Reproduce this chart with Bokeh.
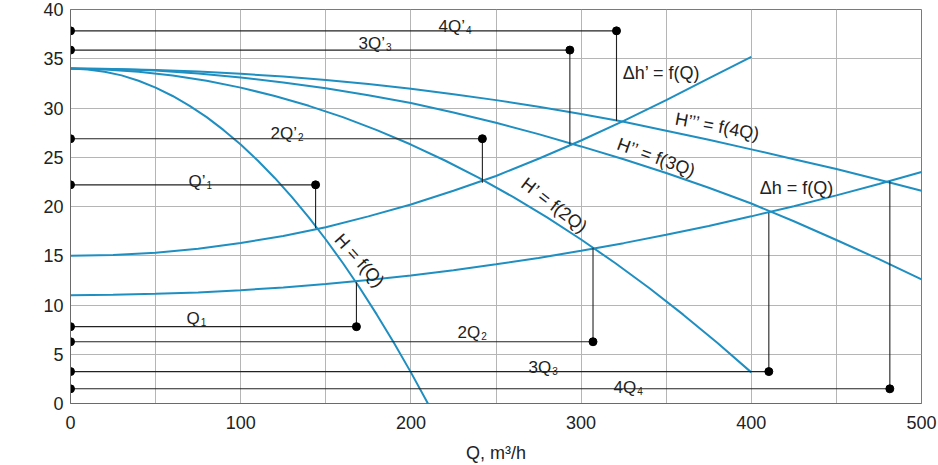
import math
from bokeh.plotting import figure
from bokeh.models import Range1d, FixedTicker, Label
from bokeh.embed import file_html
from bokeh.resources import INLINE

# ---------------- data ----------------
# pump curve H = f(Q)
q_pump1 = [0, 10, 20, 30, 40, 50, 60, 70, 80, 90, 100, 110, 120, 130, 140, 150,
           160, 170, 180, 190, 200, 210]
h_pump1 = [34.0, 33.92, 33.69, 33.31, 32.77, 32.07, 31.22, 30.22, 29.07, 27.75,
           26.29, 24.67, 22.9, 20.97, 18.89, 16.65, 14.26, 11.72, 9.02, 6.17, 3.16, 0.0]
# two pumps in parallel H' = f(2Q)
q_pump2 = [0, 20, 40, 60, 80, 100, 120, 140, 160, 180, 200, 220, 240, 260, 280,
           300, 320, 340, 360, 380, 400]
h_pump2 = [34.0, 33.92, 33.69, 33.31, 32.77, 32.07, 31.22, 30.22, 29.07, 27.75,
           26.29, 24.67, 22.9, 20.97, 18.89, 16.65, 14.26, 11.72, 9.02, 6.17, 3.16]
# three pumps H'' = f(3Q)
q_pump3 = [0, 25, 50, 75, 100, 125, 150, 175, 200, 225, 250, 275, 300, 325, 350,
           375, 400, 425, 450, 475, 500]
h_pump3 = [34.0, 33.95, 33.8, 33.5, 33.1, 32.6, 32.0, 31.3, 30.5, 29.55, 28.5,
           27.35, 26.1, 24.8, 23.4, 21.9, 20.3, 18.5, 16.6, 14.65, 12.6]
# four pumps H''' = f(4Q)
q_pump4 = [0, 25, 50, 75, 100, 125, 150, 175, 200, 225, 250, 275, 300, 325, 350,
           375, 400, 425, 450, 475, 500]
h_pump4 = [34.0, 33.97, 33.87, 33.71, 33.47, 33.2, 32.85, 32.43, 31.95, 31.4, 30.8,
           30.13, 29.4, 28.6, 27.7, 26.78, 25.8, 24.8, 23.8, 22.72, 21.6]
# system curve dh = f(Q)
q_sys1 = [0, 25, 50, 75, 100, 125, 150, 175, 200, 225, 250, 275, 300, 325, 350,
          375, 400, 425, 450, 475, 500]
h_sys1 = [11.0, 11.03, 11.13, 11.28, 11.5, 11.78, 12.13, 12.53, 13.0, 13.53, 14.13,
          14.78, 15.5, 16.28, 17.13, 18.03, 19.0, 20.03, 21.13, 22.28, 23.5]
# system curve dh' = f(Q)
q_sys2 = [0, 25, 50, 75, 100, 125, 150, 175, 200, 225, 250, 275, 300, 325, 350,
          375, 400]
h_sys2 = [15.0, 15.08, 15.3, 15.7, 16.3, 17.0, 17.9, 19.0, 20.2, 21.6, 23.1, 24.85,
          26.7, 28.7, 30.8, 33.0, 35.2]

# operating points: flow, head at the curve intersection, level of the reference line
op_names = ["Q’", "Q", "2Q’", "2Q", "3Q’", "3Q", "4Q’", "4Q"]
op_subs = ["1", "1", "2", "2", "3", "3", "4", "4"]
op_q = [144, 168, 242, 307, 293.4, 410.3, 320.8, 481.4]
op_h = [17.8, 12.3, 22.4, 15.8, 26.3, 19.35, 28.7, 22.56]
ref_h = [22.2, 7.8, 26.88, 6.27, 35.88, 3.24, 37.83, 1.49]

x_ticks = [0, 100, 200, 300, 400, 500]
y_ticks = [0, 5, 10, 15, 20, 25, 30, 35, 40]

# ---------------- style ----------------
BLUE = "#1f8fc2"
FONT = "Liberation Sans"
INK = "#222222"

W, H = 938, 465
L, R, T, B = 70, 17, 9, 62

p = figure(width=W, height=H, output_backend="svg", toolbar_location=None,
           x_range=Range1d(0, 500), y_range=Range1d(0, 40),
           min_border_left=L, min_border_right=R, min_border_top=T, min_border_bottom=B)

def px2q(px):
    return (px - L) * 500.0 / (W - L - R)

def px2h(py):
    return (H - B - py) * 40.0 / (H - B - T)

p.outline_line_color = "#7a7a7a"
p.outline_line_width = 1
p.background_fill_color = "white"
p.border_fill_color = "white"

for g, ticks in ((p.xgrid, list(range(0, 501, 50))), (p.ygrid, list(range(0, 41, 5)))):
    g.ticker = FixedTicker(ticks=ticks)
    g.grid_line_color = "#b5b5b5"
    g.grid_line_width = 1

for ax, ticks in ((p.xaxis, x_ticks), (p.yaxis, y_ticks)):
    ax.ticker = FixedTicker(ticks=ticks)
    ax.major_tick_out = 0
    ax.major_tick_in = 0
    ax.minor_tick_line_color = None
    ax.axis_line_color = "#6a6a6a"
    ax.major_label_text_font = FONT
    ax.major_label_text_font_size = "18px"
    ax.major_label_text_color = INK

p.yaxis.major_label_standoff = 7
p.xaxis.major_label_standoff = 12
p.xaxis.axis_label = "Q, m³/h"
p.xaxis.axis_label_text_font = FONT
p.xaxis.axis_label_text_font_style = "normal"
p.xaxis.axis_label_text_font_size = "18px"
p.xaxis.axis_label_text_color = INK
p.xaxis.axis_label_standoff = 11

p.add_layout(Label(x=px2q(12), y=px2h(177), text="H, m", angle=math.pi / 2,
                   text_align="center", text_baseline="middle",
                   text_font=FONT, text_font_size="18px", text_color=INK))

# curves
for qs, hs in ((q_pump1, h_pump1), (q_pump2, h_pump2), (q_pump3, h_pump3),
               (q_pump4, h_pump4), (q_sys1, h_sys1), (q_sys2, h_sys2)):
    p.line(qs, hs, line_color=BLUE, line_width=2)

# reference lines and dots
n = len(op_q)
p.segment(x0=[0] * n, y0=ref_h, x1=op_q, y1=ref_h, line_color=INK, line_width=1.1)
p.segment(x0=op_q, y0=ref_h, x1=op_q, y1=op_h, line_color=INK, line_width=1.1)
p.scatter(x=op_q, y=ref_h, size=8, color="black")
p.scatter(x=[0] * n, y=ref_h, size=8, color="black")

# operating point labels: left px, baseline px; subscript follows the main text
LAB_SIZE = 17
glyph_w = {"Q": 0.778, "’": 0.222, "2": 0.556, "3": 0.556, "4": 0.556}
lab_pos = [(188, 181), (186, 318), (270, 133), (457, 332),
           (358, 43), (528, 367), (438, 26), (613, 387)]
for name, sub, (lx, ly) in zip(op_names, op_subs, lab_pos):
    width = sum(glyph_w[c] for c in name) * LAB_SIZE
    p.add_layout(Label(x=px2q(lx), y=px2h(ly), text=name, text_align="left",
                       text_baseline="alphabetic", text_font=FONT,
                       text_font_size=f"{LAB_SIZE}px", text_color=INK))
    p.add_layout(Label(x=px2q(lx + width + 1), y=px2h(ly + 3), text=sub, text_align="left",
                       text_baseline="alphabetic", text_font=FONT,
                       text_font_size="10px", text_color=INK))

# curve labels (centre px, angle deg)
curve_labels = [("H = f(Q)", 359, 260, -48),
                ("H’ = f(2Q)", 554, 205, -37.6),
                ("H’’ = f(3Q)", 656, 157, -20),
                ("H’’’ = f(4Q)", 717, 126, -10.6),
                ("Δh = f(Q)", 796, 187, 0),
                ("Δh’ = f(Q)", 661, 72, 0)]
for txt, cx, cy, ang in curve_labels:
    p.add_layout(Label(x=px2q(cx), y=px2h(cy), text=txt, angle=math.radians(ang),
                       text_align="center", text_baseline="middle", text_font=FONT,
                       text_font_size="18px", text_color=INK))

open("out.html", "w").write(file_html(p, INLINE))
